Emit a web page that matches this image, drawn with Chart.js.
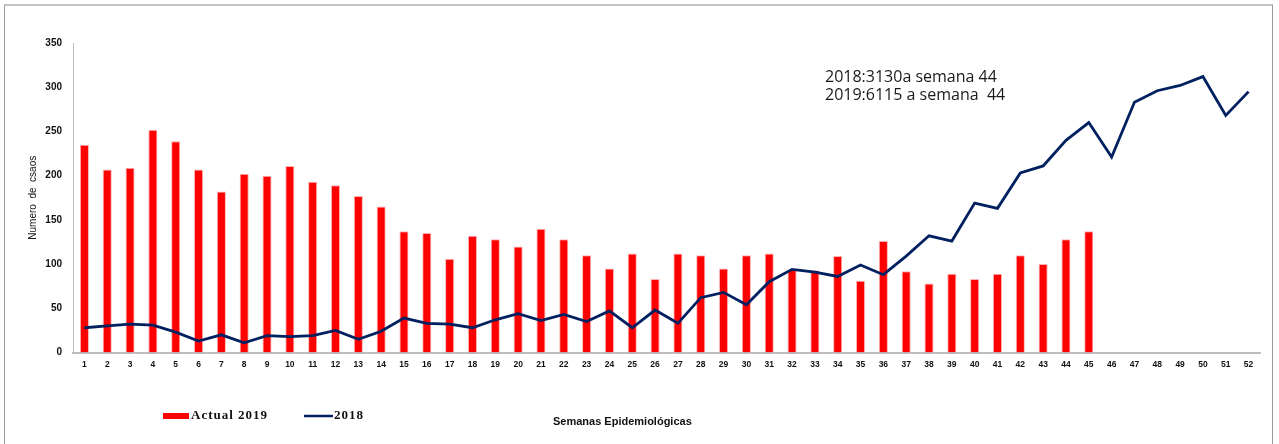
<!DOCTYPE html>
<html>
<head>
<meta charset="utf-8">
<script src="https://cdn.jsdelivr.net/npm/chart.js@4.4.0/dist/chart.umd.min.js"></script>
<style>
  body { margin: 0; background: #fff; }
  #wrap { position: relative; width: 1279px; height: 444px; overflow: hidden; }
  #frame { position: absolute; left: 4px; top: 4px; width: 1267px; height: 470px; border: 1px solid #9a9a9a; border-top: 2px solid #c4c4c4; }
  canvas { position: absolute; left: 0; top: 0; }
</style>
</head>
<body>
<div id="wrap">
  <div id="frame"></div>
  <canvas id="chart" width="1279" height="444"></canvas>
</div>
<script>
var semanas = [];
for (var i = 1; i <= 52; i++) semanas.push(String(i));

var actual2019 = [235, 207, 209, 252, 239, 207, 182, 202, 200, 211, 193, 189, 177, 165, 137,
                  135, 106, 132, 128, 120, 140, 128, 110, 95, 112, 83, 112, 110, 95, 110,
                  112, 94, 93, 109, 81, 126, 92, 78, 89, 83, 89, 110, 100, 128, 137,
                  null, null, null, null, null, null, null];
var casos2018 = [28, 30, 32, 31, 23, 13, 20, 11, 19, 18, 19, 25, 15, 24, 39,
                 33, 32, 28, 37, 44, 36, 43, 35, 47, 28, 48, 33, 62, 68, 54,
                 80, 94, 91, 86, 99, 88, 109, 132, 126, 169, 163, 203, 211, 240, 260,
                 221, 283, 296, 302, 312, 268, 295];
var yTicks = [0, 50, 100, 150, 200, 250, 300, 350];
var notas = ['2018:3130a semana 44', '2019:6115 a semana  44'];

var notePlugin = {
    id: 'notas',
    afterDraw: function(chart) {
        var ctx = chart.ctx;
        ctx.save();
        ctx.fillStyle = '#1a1a1a';
        ctx.font = '16px "Open Sans"';
        ctx.textBaseline = 'middle';
        ctx.fillText(notas[0], 825, 77);
        ctx.fillText(notas[1], 825, 95);

        // leyenda
        var ds = chart.data.datasets;
        ctx.font = 'bold 13px "Liberation Serif"';
        ctx.letterSpacing = '1px';
        ctx.fillStyle = '#ff0000';
        ctx.fillRect(163, 413, 26, 6);
        ctx.fillStyle = '#111';
        ctx.fillText(ds[0].label, 191, 416);
        ctx.strokeStyle = '#002060';
        ctx.lineWidth = 2.5;
        ctx.beginPath(); ctx.moveTo(304, 416); ctx.lineTo(333, 416); ctx.stroke();
        ctx.fillText(ds[1].label, 334, 416);

        ctx.letterSpacing = '0px';
        ctx.font = 'bold 11px "Liberation Sans"';
        ctx.fillText('Semanas Epidemiológicas', 553, 422);
        ctx.restore();
    }
};

var ctx = document.getElementById('chart').getContext('2d');
var chart = new Chart(ctx, {
    type: 'bar',
    data: {
        labels: semanas,
        datasets: [
            { label: 'Actual 2019', data: actual2019, backgroundColor: '#ff0000', borderColor: 'rgba(255,170,170,0.9)', borderWidth: {left: 1, right: 1, top: 1, bottom: 0},
              barPercentage: 0.4, categoryPercentage: 1, order: 1 },
            { type: 'line', label: '2018', data: casos2018, borderColor: '#002060', borderWidth: 2.8,
              pointRadius: 0, tension: 0, fill: false, order: 0 }
        ]
    },
    options: {
        responsive: false,
        animation: false,
        layout: { padding: { left: 0, top: 43, right: 19, bottom: 0 } },
        plugins: { legend: { display: false }, tooltip: { enabled: false } },
        scales: {
            x: {
                grid: { display: false, drawTicks: false },
                border: { color: '#bdbdbd', width: 2 },
                ticks: { color: '#111', font: { family: 'Liberation Sans', size: 8.5, weight: 'bold' }, padding: 7, maxRotation: 0, autoSkip: false },
                afterFit: function(s) { s.height = 91.5; }
            },
            y: {
                min: 0, max: 350,
                afterBuildTicks: function(s) { s.ticks = yTicks.map(function(v) { return { value: v }; }); },
                grid: { display: false, drawTicks: false },
                border: { color: '#bdbdbd', width: 1 },
                ticks: { color: '#111', font: { family: 'Liberation Sans', size: 10, weight: 'bold' }, padding: 11 },
                title: { display: true, text: 'Numero  de  csaos', color: '#111', font: { family: 'Liberation Sans', size: 10 }, padding: { top: 27, bottom: 0 } },
                afterFit: function(s) { s.width = 73; }
            }
        }
    },
    plugins: [notePlugin]
});
</script>
</body>
</html>
